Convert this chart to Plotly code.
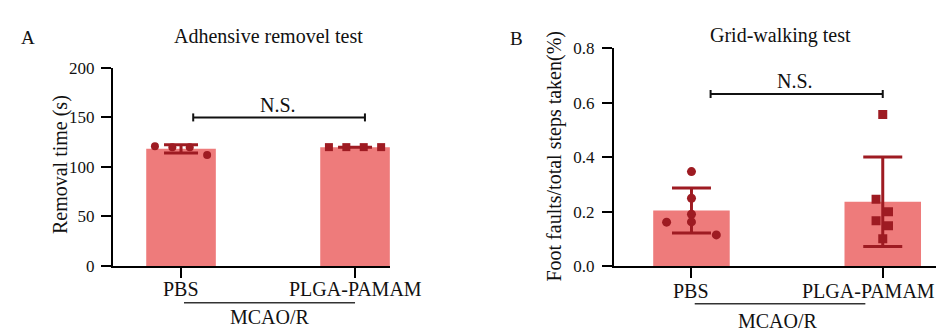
import numpy as np
import plotly.graph_objects as go

W, H = 944, 333

groups = ["PBS", "PLGA-PAMAM"]
group_label = "MCAO/R"

# Panel A: Adhesive removal test (s)
a_pbs = [121, 120, 120, 112]
a_plga = [120, 120, 120, 120]
a_yticks = [0, 50, 100, 150, 200]

# Panel B: Grid-walking test
b_pbs = [0.347, 0.249, 0.19, 0.162, 0.161, 0.114]
b_plga = [0.557, 0.245, 0.199, 0.166, 0.148, 0.10]
b_yticks = [0.0, 0.2, 0.4, 0.6, 0.8]

# jitter offsets (layout only)
a_jit_pbs = [-0.15, -0.05, 0.05, 0.15]
a_jit_plga = [-0.15, -0.05, 0.05, 0.15]
b_jit_pbs = [0.0, 0.0, 0.0, 0.0, -0.13, 0.13]
b_jit_plga = [0.0, -0.035, 0.03, -0.035, 0.03, 0.0]

BAR = "#ee7b7b"
DARK = "#9e1b22"
FONT = "Liberation Serif, Times New Roman, serif"


def px_x(p):
    return p / W


def px_y(p):
    return 1 - p / H


fig = go.Figure()


def add_panel(xa, ya, data, jits, symbols, msize, capw):
    means = [float(np.mean(d)) for d in data]
    sds = [float(np.std(d, ddof=1)) for d in data]
    fig.add_trace(go.Bar(
        x=[0, 1], y=means, width=0.4, marker=dict(color=BAR, line=dict(width=0)),
        error_y=dict(type="data", array=sds, visible=True, color=DARK, thickness=3, width=capw),
        xaxis=xa, yaxis=ya, showlegend=False, hoverinfo="skip"))
    for i, (d, j, s) in enumerate(zip(data, jits, symbols)):
        fig.add_trace(go.Scatter(
            x=[i + o for o in j], y=d, mode="markers",
            marker=dict(symbol=s, size=msize, color=DARK, line=dict(width=0)),
            xaxis=xa, yaxis=ya, showlegend=False, hoverinfo="skip"))


add_panel("x", "y", [a_pbs, a_plga], [a_jit_pbs, a_jit_plga], ["circle", "square"], 8, 17)
add_panel("x2", "y2", [b_pbs, b_plga], [b_jit_pbs, b_jit_plga], ["circle", "square"], 9, 19.5)

axis_common = dict(showline=True, linecolor="black", linewidth=2, ticks="outside",
                   ticklen=10, tickwidth=2, tickcolor="black", showgrid=False, zeroline=False,
                   tickfont=dict(family=FONT, size=17, color="#111"))

fig.update_layout(
    width=W, height=H, margin=dict(l=0, r=0, t=0, b=0),
    plot_bgcolor="white", paper_bgcolor="white",
    font=dict(family=FONT, size=17, color="#111"),
    xaxis=dict(domain=[px_x(105), px_x(382)], range=[-0.391, 1.201], tickvals=[0, 1],
               ticktext=["", ""], anchor="y", **axis_common),
    yaxis=dict(domain=[px_y(264), px_y(54)], range=[0, 200], tickvals=a_yticks,
               anchor="x", ticklabelstandoff=3, **axis_common),
    xaxis2=dict(domain=[px_x(606), 1.0], range=[-0.405, 1.362], tickvals=[0, 1],
                ticktext=["", ""], anchor="y2", **axis_common),
    yaxis2=dict(domain=[px_y(264), px_y(33.3)], range=[0, 0.8], tickvals=b_yticks,
                tickformat=".1f", anchor="x2", ticklabelstandoff=4, **axis_common),
)

ann = []


def text(x, y, t, size=20, xref="paper", yref="paper", angle=0):
    ann.append(dict(x=x, y=y, xref=xref, yref=yref, text=t, showarrow=False,
                    textangle=angle, xanchor="center", yanchor="middle",
                    font=dict(family=FONT, size=size, color="#111")))


# Panel A texts
text(px_x(20), px_y(22), "A", 19)
text(px_x(260), px_y(20), "Adhensive removel test", 20)
text(px_x(52), px_y(157), "Removal time (s)", 20, angle=-90)
text(0, px_y(288), groups[0], 20, xref="x")
text(1, px_y(288), groups[1], 20, xref="x")
text(px_x(262), px_y(318), group_label, 20)
text(px_x(270), px_y(93), "N.S.", 20)

# Panel B texts
text(px_x(508), px_y(23), "B", 19)
text(px_x(772), px_y(20), "Grid-walking test", 20)
text(px_x(547), px_y(148), "Foot faults/total steps taken(%)", 20, angle=-90)
text(0, px_y(291), groups[0], 20, xref="x2")
text(px_x(860), px_y(291), groups[1], 20)
text(px_x(770), px_y(322), group_label, 20)
text(px_x(787), px_y(68), "N.S.", 20)

fig.update_layout(annotations=ann)

shapes = []


def bracket(xref, yref, x0, x1, y):
    shapes.append(dict(type="line", xref=xref, yref=yref, x0=x0, x1=x1, y0=y, y1=y,
                       line=dict(color="#111", width=2)))
    for xx in (x0, x1):
        shapes.append(dict(type="line", xref=xref, yref=yref, ysizemode="pixel", yanchor=y,
                           x0=xx, x1=xx, y0=-4, y1=4, line=dict(color="#111", width=2)))


bracket("x", "y", 0.07, 1.057, 150)
bracket("x2", "y2", 0.10, 1.0, 0.632)

# group underline
shapes.append(dict(type="line", xref="x", yref="paper", x0=0.017, x1=1.0,
                   y0=px_y(303), y1=px_y(303), line=dict(color="#333", width=1.5)))
shapes.append(dict(type="line", xref="x2", yref="paper", x0=0.017, x1=0.909,
                   y0=px_y(304), y1=px_y(304), line=dict(color="#333", width=1.5)))

fig.update_layout(shapes=shapes)

fig.write_html("out.html")
